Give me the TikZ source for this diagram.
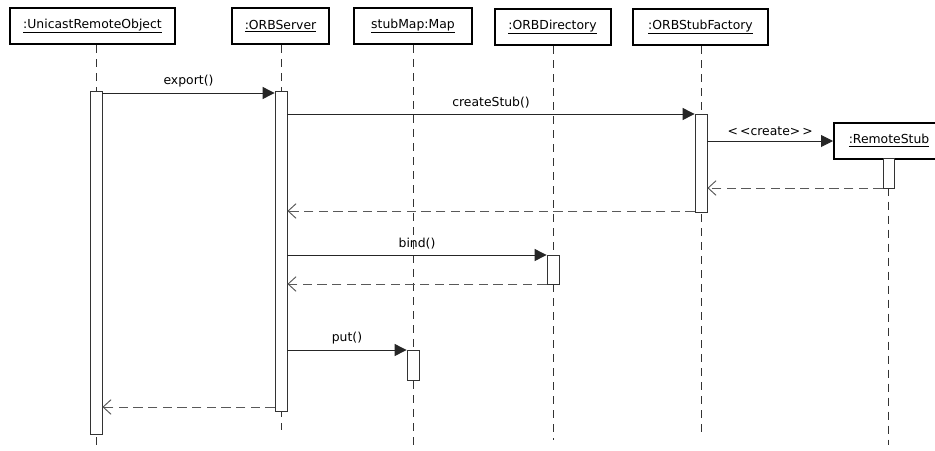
\documentclass[tikz,border=0pt]{standalone}
\usepackage{fontspec}
\setmainfont{DejaVu Sans}
\usetikzlibrary{arrows.meta}
\begin{document}
\begin{tikzpicture}[x=0.75pt,y=-0.75pt,
  obj/.style={draw=black,line width=1.5pt,fill=white,inner sep=0pt,minimum height=27pt,font=\fontsize{9.3}{10}\selectfont},
  life/.style={draw=black!80,line width=0.6pt,dash pattern=on 6pt off 4.5pt},
  actbar/.style={draw=black!80,fill=white,line width=0.6pt},
  msg/.style={draw=black!85,line width=0.7pt,-{Triangle[length=9pt,width=9pt]}},
  ret/.style={draw=black!65,line width=0.7pt,dash pattern=on 7pt off 4pt,-{Straight Barb[length=6pt,width=11pt]}},
  lbl/.style={font=\fontsize{9.3}{10}\selectfont,inner sep=1pt}]
\useasboundingbox (0,0) rectangle (935,450);
\fill[white] (0,0) rectangle (935,450);
% objects
\node[obj,minimum width=123.75pt] (uro) at (92.5,26) {\underline{:UnicastRemoteObject}};
\node[obj,minimum width=72.75pt] (srv) at (280.5,26) {\underline{:ORBServer}};
\node[obj,minimum width=88.5pt] (map) at (413,26) {\underline{stubMap:Map}};
\node[obj,minimum width=87pt] (dir) at (552.5,27) {\underline{:ORBDirectory}};
\node[obj,minimum width=101.25pt] (fac) at (700.5,27) {\underline{:ORBStubFactory}};
% lifeline end coordinates
\coordinate (uroE) at (96,450);
\coordinate (srvE) at (281,430);
\coordinate (mapE) at (413,450);
\coordinate (dirE) at (553,440);
\coordinate (facE) at (701,435);
\coordinate (rsE) at (888,445);
\draw[life] (uro.south -| uroE) -- (uroE);
\draw[life] (srv.south -| srvE) -- (srvE);
\draw[life] (map.south -| mapE) -- (mapE);
\draw[life] (dir.south -| dirE) -- (dirE);
\draw[life] (fac.south -| facE) -- (facE);
% remote stub
\node[obj,minimum width=82.5pt,anchor=west] (rs) at (833,140.5) {\underline{:RemoteStub}};
\draw[life] (rs.south -| rsE) -- (rsE);
% activation bars
\node[actbar,draw,minimum width=9pt,minimum height=257.25pt,inner sep=0pt,anchor=north] (aUro) at (96,91) {};
\node[actbar,draw,minimum width=9pt,minimum height=240pt,inner sep=0pt,anchor=north] (aSrv) at (281,91) {};
\node[actbar,draw,minimum width=9pt,minimum height=73.5pt,inner sep=0pt,anchor=north] (aFac) at (701,114) {};
\node[actbar,draw,minimum width=8.25pt,minimum height=22.5pt,inner sep=0pt,anchor=north] (aRs) at (888.5,158) {};
\node[actbar,draw,minimum width=9pt,minimum height=21.75pt,inner sep=0pt,anchor=north] (aDir) at (553,255) {};
\node[actbar,draw,minimum width=9pt,minimum height=22.5pt,inner sep=0pt,anchor=north] (aMap) at (413,350) {};
% messages
\draw[msg] (aUro.east |- 0,93) -- (aSrv.west |- 0,93) node[lbl,midway,above=3pt] {export()};
\draw[msg] (aSrv.east |- 0,114) -- (aFac.west |- 0,114) node[lbl,midway,above=3pt] {createStub()};
\draw[msg] (aFac.east |- 0,141) -- (rs.west |- 0,141) node[lbl,midway,above=3pt] {\textless\,\textless create\textgreater\,\textgreater};
\draw[ret] (aRs.west |- 0,188) -- (aFac.east |- 0,188);
\draw[ret] (aFac.west |- 0,211) -- (aSrv.east |- 0,211);
\draw[msg] (aSrv.east |- 0,255) -- (aDir.west |- 0,255) node[lbl,midway,above=3pt] {bind()};
\draw[ret] (aDir.west |- 0,284) -- (aSrv.east |- 0,284);
\draw[msg] (aSrv.east |- 0,350) -- (aMap.west |- 0,350) node[lbl,midway,above=3pt] {put()};
\draw[ret] (aSrv.west |- 0,407) -- (aUro.east |- 0,407);
\end{tikzpicture}
\end{document}
